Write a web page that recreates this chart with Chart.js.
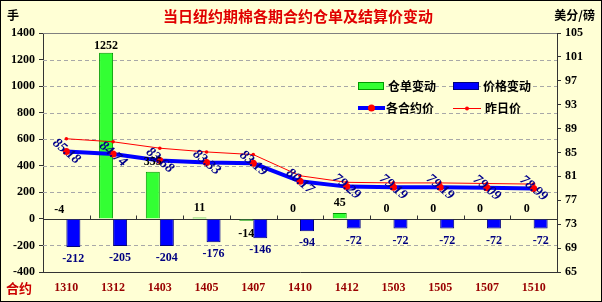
<!DOCTYPE html>
<html><head><meta charset="utf-8">
<script src="https://cdn.jsdelivr.net/npm/chart.js@4/dist/chart.umd.min.js"></script>
<style>html,body{margin:0;padding:0;background:#FFFFD5}canvas{display:block}</style>
</head><body>
<canvas id="c" width="602" height="302"></canvas>
<script>
const categories = ['1310','1312','1403','1405','1407','1410','1412','1503','1505','1507','1510'];
const warrantChange = [-4,1252,355,11,-14,0,45,0,0,0,0];
const priceChange = [-212,-205,-204,-176,-146,-94,-72,-72,-72,-72,-72];
const settlePrice = [85.18,84.74,83.68,83.33,83.19,80.17,79.29,79.19,79.19,79.09,78.99];
const prevPrice = [87.30,86.79,85.72,85.09,84.65,81.11,80.01,79.91,79.91,79.81,79.71];
const leftAxis = {min:-400, max:1400, step:200};
const rightAxis = {min:65, max:105, step:4};
const titleText = '当日纽约期棉各期合约仓单及结算价变动';
const leftUnit = '手';
const rightUnit = '美分/磅';
const categoryTitle = '合约';

const CJK = '"Noto Sans CJK SC", sans-serif';
const NUM = '"Liberation Serif", serif';

const deco = {
  id:'deco',
  beforeDraw(chart){
    const c = chart.ctx;
    c.save(); c.fillStyle = '#FFFFD5'; c.fillRect(0,0,chart.width,chart.height); c.restore();
  },
  beforeDatasetsDraw(chart){
    const c = chart.ctx, a = chart.chartArea, y = chart.scales.y;
    c.save();
    c.lineWidth = 1;
    c.strokeStyle = '#A8A8A8'; c.setLineDash([4,3]);
    c.beginPath();
    y.ticks.forEach(t=>{
      if (t.value === 0 || t.value === leftAxis.max || t.value === leftAxis.min) return;
      const py = Math.round(y.getPixelForValue(t.value)) + 0.5;
      c.moveTo(a.left, py); c.lineTo(a.right, py);
    });
    c.stroke();
    c.setLineDash([]);
    c.strokeStyle = '#808080';
    c.beginPath(); c.moveTo(a.left, Math.round(a.top)+0.5); c.lineTo(a.right, Math.round(a.top)+0.5); c.stroke();
    const y0 = Math.round(y.getPixelForValue(0)) + 0.5;
    c.strokeStyle = '#333';
    c.beginPath(); c.moveTo(a.left, y0); c.lineTo(a.right, y0); c.stroke();
    const n = categories.length, w = (a.right - a.left)/n;
    c.beginPath();
    for (let i=1;i<n;i++){ const x = Math.round(a.left + i*w)+0.5; c.moveTo(x,y0); c.lineTo(x,y0-4); }
    c.stroke();
    c.restore();
  },
  afterDatasetsDraw(chart){
    const c = chart.ctx;
    c.save();
    c.font = 'bold 12px ' + NUM; c.textAlign = 'center'; c.textBaseline = 'middle';
    const mg = chart.getDatasetMeta(0);
    mg.data.forEach((el,i)=>{
      const v = warrantChange[i];
      c.fillStyle = '#000';
      const ty = v >= -5 ? el.y - 10 : el.y + 13;
      c.fillText(String(v), el.x, Math.max(ty, chart.chartArea.top + 13));
    });
    const mb = chart.getDatasetMeta(1);
    mb.data.forEach((el,i)=>{
      const v = priceChange[i];
      c.fillStyle = '#000080';
      c.fillText(String(v), el.x, v < 0 ? el.y + 12 : el.y - 10);
    });
    const ml = chart.getDatasetMeta(2);
    c.font = 'bold italic 14px ' + NUM; c.fillStyle = '#00008B';
    ml.data.forEach((el,i)=>{
      c.save(); c.translate(el.x, el.y); c.rotate(40*Math.PI/180);
      c.fillText(settlePrice[i].toFixed(2), 0, 0); c.restore();
    });
    c.restore();
  },
  afterDraw(chart){
    const c = chart.ctx;
    c.save();
    c.textBaseline = 'middle';
    c.font = 'bold 15px ' + CJK; c.fillStyle = '#E00000'; c.textAlign = 'center';
    c.fillText(titleText, 298, 16);
    c.font = 'bold 12px ' + CJK; c.fillStyle = '#000'; c.textAlign = 'left';
    c.fillText(leftUnit, 7, 15);
    c.textAlign = 'right'; c.fillText(rightUnit, 595, 15);
    c.textAlign = 'left'; c.fillStyle = '#CC0000'; c.font = 'bold 13px ' + CJK;
    c.fillText(categoryTitle, 6, 288);
    const ds = chart.data.datasets;
    c.font = 'bold 12px ' + CJK; c.fillStyle = '#000';
    const r1 = 86, r2 = 108;
    c.fillStyle = ds[0].backgroundColor; c.fillRect(358, r1-4, 26, 8);
    c.strokeStyle = ds[0].borderColor; c.lineWidth = 1; c.strokeRect(358.5, r1-3.5, 25, 7);
    c.fillStyle = '#000'; c.fillText(ds[0].label, 388, r1);
    c.fillStyle = ds[1].backgroundColor; c.fillRect(453, r1-4, 26, 8);
    c.strokeStyle = ds[1].borderColor; c.strokeRect(453.5, r1-3.5, 25, 7);
    c.fillStyle = '#000'; c.fillText(ds[1].label, 483, r1);
    c.strokeStyle = ds[2].borderColor; c.lineWidth = ds[2].borderWidth;
    c.beginPath(); c.moveTo(358, r2); c.lineTo(385, r2); c.stroke();
    c.fillStyle = ds[2].pointBackgroundColor; c.beginPath(); c.arc(371.5, r2, 3.5, 0, Math.PI*2); c.fill();
    c.fillStyle = '#000'; c.fillText(ds[2].label, 386, r2);
    c.strokeStyle = ds[3].borderColor; c.lineWidth = 1;
    c.beginPath(); c.moveTo(453, r2+0.5); c.lineTo(481, r2+0.5); c.stroke();
    c.fillStyle = ds[3].pointBackgroundColor; c.beginPath(); c.arc(467, r2+0.5, 2, 0, Math.PI*2); c.fill();
    c.fillStyle = '#000'; c.fillText(ds[3].label, 485, r2);
    c.strokeStyle = '#000'; c.lineWidth = 1; c.strokeRect(0.5, 0.5, chart.width-1, chart.height-1);
    c.restore();
  }
};

new Chart(document.getElementById('c'), {
  type: 'bar',
  data: {
    labels: categories,
    datasets: [
      {type:'bar', label:'仓单变动', data: warrantChange, yAxisID:'y', backgroundColor:'#33FF33', borderColor:'#009900', borderWidth:1, order:2, categoryPercentage:0.6, barPercentage:1.0},
      {type:'bar', label:'价格变动', data: priceChange, yAxisID:'y', backgroundColor:'#0000FF', borderColor:'#000080', borderWidth:1, order:3, categoryPercentage:0.6, barPercentage:1.0},
      {type:'line', label:'各合约价', data: settlePrice, yAxisID:'y1', borderColor:'#0000FF', borderWidth:4, pointBackgroundColor:'#FF0000', pointBorderColor:'#FF0000', pointRadius:3.5, pointBorderWidth:0, tension:0, order:0},
      {type:'line', label:'昨日价', data: prevPrice, yAxisID:'y1', borderColor:'#FF0000', borderWidth:1, pointBackgroundColor:'#FF0000', pointBorderColor:'#FF0000', pointRadius:1.8, pointBorderWidth:0, tension:0, order:1}
    ]
  },
  options: {
    responsive:false, animation:false,
    layout:{padding:{top:33, bottom:0, left:0, right:0}},
    plugins:{legend:{display:false}, tooltip:{enabled:false}, title:{display:false}},
    scales:{
      x:{
        grid:{display:false, drawTicks:false},
        border:{display:true, color:'#333'},
        ticks:{color:'#990000', font:{family:NUM, size:12, weight:'bold'}, padding:9, maxRotation:0, autoSkip:false},
        afterFit(s){ s.height = 30; }
      },
      y:{
        position:'left', min:leftAxis.min, max:leftAxis.max,
        ticks:{stepSize:leftAxis.step, color:'#000', font:{family:NUM, size:12, weight:'bold'}, padding:4, callback:(v)=>String(v)},
        grid:{drawOnChartArea:false, tickColor:'#333', tickLength:4},
        border:{display:true, color:'#333'},
        afterFit(s){ s.width = 43; }
      },
      y1:{
        position:'right', min:rightAxis.min, max:rightAxis.max,
        ticks:{stepSize:rightAxis.step, color:'#000', font:{family:NUM, size:12, weight:'bold'}, padding:4, callback:(v)=>String(v)},
        grid:{drawOnChartArea:false, tickColor:'#333', tickLength:4},
        border:{display:true, color:'#333'},
        afterFit(s){ s.width = 45; }
      }
    }
  },
  plugins:[deco]
});
</script>
</body></html>
